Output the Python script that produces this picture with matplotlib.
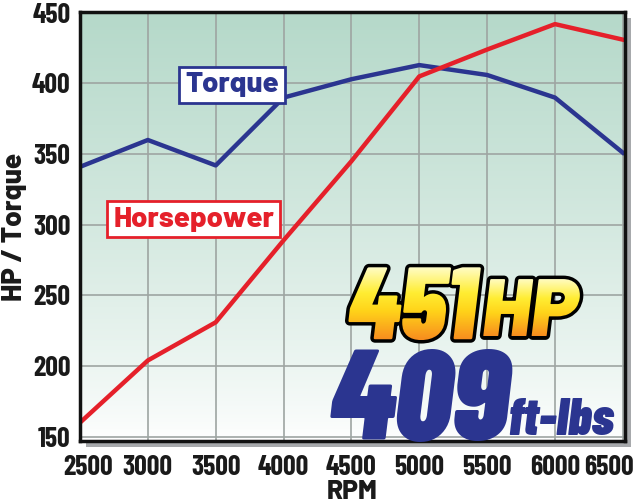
import numpy as np
import matplotlib
matplotlib.use("Agg")
import matplotlib.pyplot as plt
from matplotlib.patches import Rectangle, PathPatch
from matplotlib.textpath import TextPath
from matplotlib.font_manager import FontProperties
from matplotlib.transforms import Affine2D, ScaledTranslation

rpm = [2500, 3000, 3500, 4000, 4500, 5000, 5500, 6000, 6500]
torque = [341, 360, 342, 390, 403, 413, 406, 390, 351]
horsepower = [160, 204, 231, 289, 345, 405, 424, 442, 431]
y_ticks = [150, 200, 250, 300, 350, 400, 450]

COND = "Barlow Condensed"
WIDE = "Barlow"
BLUE = "#2b3590"
RED = "#e5202a"
INK = "#1a1a1a"
DPI = 100

fig = plt.figure(figsize=(6.4, 5.04), dpi=DPI)
ax = fig.add_axes([0.125, 0.125, 0.852, 0.851])
XLIM = (2500, 6518)
YLIM = (147, 450.5)

# drop shadow behind the plot frame
shadow = Rectangle((0.125 + 6 / 640, 0.125 - 6 / 504), 0.852, 0.851,
                   transform=fig.transFigure, facecolor="#a7a9ac",
                   edgecolor="none", zorder=-1)
fig.patches.append(shadow)

# vertical gradient background
grad = np.linspace(0, 1, 256).reshape(-1, 1)
top = np.array([0.71, 0.85, 0.79])
bot = np.array([1.0, 1.0, 1.0])
img = bot + (top - bot) * grad[..., None] ** 0.8
ax.imshow(img, extent=[*XLIM, *YLIM], origin="lower", aspect="auto", zorder=0)

ax.set_xticks(rpm)
ax.set_yticks(y_ticks)
ax.grid(True, color="#9ea5a2", linewidth=1.2, zorder=1)
ax.tick_params(axis="y", length=0, pad=7)
ax.tick_params(axis="x", length=0, pad=10)
for lab in ax.get_xticklabels() + ax.get_yticklabels():
    lab.set_fontfamily(COND)
    lab.set_fontweight("bold")
    lab.set_fontsize(20)
    lab.set_color(INK)
xl = ax.get_xticklabels()
xl[0].set_transform(xl[0].get_transform() + ScaledTranslation(6 / 72, 0, fig.dpi_scale_trans))
xl[-1].set_transform(xl[-1].get_transform() + ScaledTranslation(-10 / 72, 0, fig.dpi_scale_trans))

for s in ax.spines.values():
    s.set_linewidth(2.5)
    s.set_color("#111111")
    s.set_zorder(5)

ax.plot(rpm, torque, color=BLUE, linewidth=3.2, zorder=3)
ax.plot(rpm, horsepower, color=RED, linewidth=3.2, zorder=3)

ax.set_xlabel("RPM", fontfamily=WIDE, fontweight=800, fontsize=19, color=INK)
ax.xaxis.set_label_coords(0.5, -0.092)
ax.set_ylabel("HP / Torque", fontfamily=WIDE, fontweight=800, fontsize=20, color=INK)
ax.yaxis.set_label_coords(-0.097, 0.5)

ax.text(3621, 399, "Torque", fontfamily=WIDE, fontweight=800, fontsize=21,
        color=BLUE, ha="center", va="center", zorder=6,
        bbox=dict(boxstyle="square,pad=0.2", facecolor="white",
                  edgecolor=BLUE, linewidth=2))
ax.text(3337, 304, "Horsepower", fontfamily=WIDE, fontweight=800, fontsize=21,
        color=RED, ha="center", va="center", zorder=6,
        bbox=dict(boxstyle="square,pad=0.2", facecolor="white",
                  edgecolor=RED, linewidth=2))

ax.set_xlim(*XLIM)
ax.set_ylim(*YLIM)

flame_pos = [0, 0.4, 0.65, 1]
flame = np.array([[0.97, 0.55, 0.12], [1.0, 0.83, 0.1], [1.0, 0.93, 0.2], [1.0, 0.99, 0.78]])


def gradient_text(s, x, y, size, family):
    # text drawn as a path, outlined in black and filled with a yellow-orange gradient
    prop = FontProperties(family=family, weight=900, style="italic")
    tp = TextPath((0, 0), s, size=size, prop=prop)
    tr = Affine2D().scale(DPI / 72) + Affine2D().translate(*ax.transData.transform((x, y)))
    edge = PathPatch(tp, transform=tr, facecolor="black", edgecolor="black",
                     linewidth=5, joinstyle="round", zorder=7)
    ax.add_patch(edge)
    clip = PathPatch(tp, transform=tr, facecolor="none", edgecolor="none")
    ax.add_patch(clip)
    pts = ax.transData.inverted().transform(tr.transform(tp.vertices))
    x0, y0 = pts.min(axis=0)
    x1, y1 = pts.max(axis=0)
    t = np.linspace(0, 1, 200)
    cols = np.stack([np.interp(t, flame_pos, flame[:, c]) for c in range(3)], axis=-1)
    im = ax.imshow(cols[:, None, :], extent=[x0, x1, y0, y1], origin="lower",
                   aspect="auto", zorder=8)
    im.set_clip_path(clip)


gradient_text("451", 4470, 219, 74, COND)
gradient_text("HP", 5460, 221, 59, WIDE)

ax.text(4330, 148, "409", fontfamily=COND, fontweight=900, fontstyle="italic",
        fontsize=93, color=BLUE, ha="left", va="baseline", zorder=7)
ax.text(5650, 151, "ft-lbs", fontfamily=COND, fontweight=900, fontstyle="italic",
        fontsize=38, color=BLUE, ha="left", va="baseline", zorder=7)

ax.set_xlim(*XLIM)
ax.set_ylim(*YLIM)

fig.savefig("out.png", dpi=DPI, facecolor="white")
